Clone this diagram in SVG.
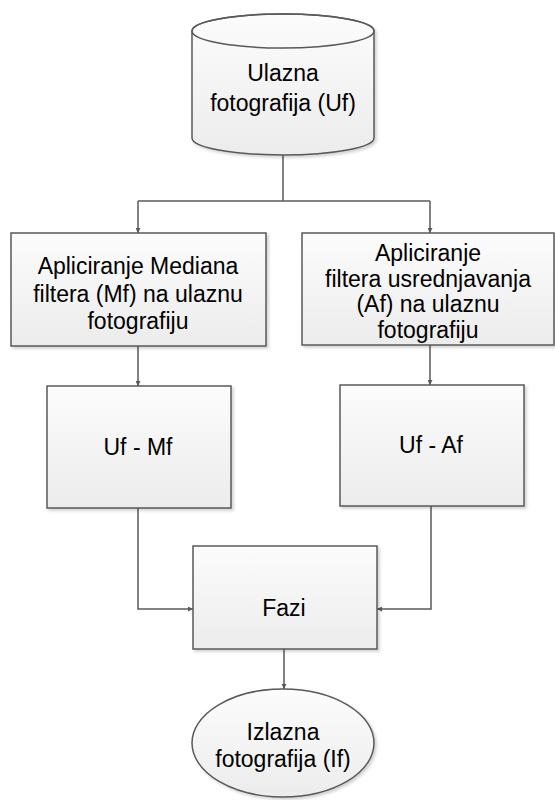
<svg xmlns="http://www.w3.org/2000/svg" width="555" height="800" viewBox="0 0 555 800">
<style>
.shape{fill:url(#g);stroke:#595959;stroke-width:1.5;filter:url(#sh)}
.conn{fill:none;stroke:#595959;stroke-width:1.5;marker-end:url(#arr)}
.line{fill:none;stroke:#595959;stroke-width:1.5}
text{font-family:"Liberation Sans",Arial,sans-serif;font-size:23px;fill:#000;text-anchor:middle}
</style>
<defs>
<linearGradient id="g" x1="0" y1="0" x2="0" y2="1">
<stop offset="0" stop-color="#fcfcfc"/>
<stop offset="1" stop-color="#ececec"/>
</linearGradient>
<filter id="sh" x="-10%" y="-10%" width="130%" height="130%">
<feDropShadow dx="2" dy="2" stdDeviation="1.5" flood-color="#000" flood-opacity="0.18"/>
</filter>
<marker id="arr" viewBox="0 0 10 10" refX="10" refY="5" markerWidth="5" markerHeight="5" orient="auto" markerUnits="userSpaceOnUse">
<path d="M0,0 L10,5 L0,10 Z" fill="#595959"/>
</marker>
</defs>
<rect width="555" height="800" fill="#fff"/>
<g id="connectors">
<path class="line" d="M283,155 V201 M138,201 H430"/>
<path class="conn" d="M138,201 V233"/>
<path class="conn" d="M430,201 V233"/>
<path class="conn" d="M138,346 V386"/>
<path class="conn" d="M430,345 V385"/>
<path class="conn" d="M138,508 V609 H193"/>
<path class="conn" d="M431,506 V609 H377"/>
<path class="conn" d="M284,649 V689"/>
</g>
<g id="ulazna">
<path class="shape" d="M192,31 A91,17 0 0,1 374,31 L374,138 A91,17 0 0,1 192,138 Z"/>
<ellipse cx="283" cy="31" rx="91" ry="17" fill="none" stroke="#595959" stroke-width="1.5"/>
<text x="283" y="81">Ulazna</text>
<text x="283" y="111">fotografija (Uf)</text>
</g>
<g id="median">
<rect class="shape" x="11" y="233" width="255" height="113"/>
<text x="138" y="274">Apliciranje Mediana</text>
<text x="138" y="302">filtera (Mf) na ulaznu</text>
<text x="138" y="329">fotografiju</text>
</g>
<g id="usred">
<rect class="shape" x="302" y="233" width="252" height="112"/>
<text x="428" y="261">Apliciranje</text>
<text x="428" y="287">filtera usrednjavanja</text>
<text x="428" y="312">(Af) na ulaznu</text>
<text x="428" y="338">fotografiju</text>
</g>
<g id="ufmf">
<rect class="shape" x="47" y="386" width="184" height="122"/>
<text x="138" y="455">Uf - Mf</text>
</g>
<g id="ufaf">
<rect class="shape" x="340" y="385" width="184" height="121"/>
<text x="431" y="453">Uf - Af</text>
</g>
<g id="fazi">
<rect class="shape" x="193" y="546" width="184" height="103"/>
<text x="284" y="616">Fazi</text>
</g>
<g id="izlazna">
<ellipse class="shape" cx="283" cy="743" rx="91" ry="54"/>
<text x="283" y="740">Izlazna</text>
<text x="283" y="767">fotografija (If)</text>
</g>
</svg>
